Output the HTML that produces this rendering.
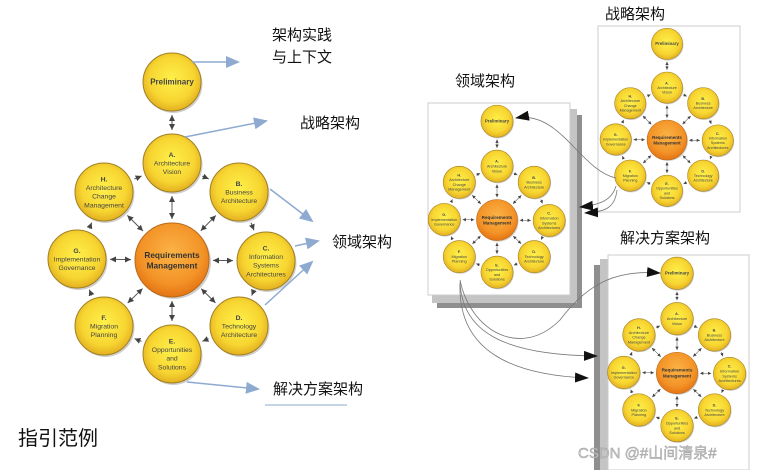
<!DOCTYPE html>
<html><head><meta charset="utf-8"><style>
body{margin:0;background:#fff;width:769px;height:470px;overflow:hidden;font-family:"Liberation Sans","Noto Sans CJK SC",sans-serif}
svg{position:absolute;left:0;top:0}
.cn{font-family:"Liberation Sans","Noto Sans CJK SC",sans-serif;fill:#111}
</style></head><body>
<svg id="s" width="769" height="470" xmlns="http://www.w3.org/2000/svg">
<defs id="defs">
<radialGradient id="y" cx="50%" cy="45%" r="55%"><stop offset="0" stop-color="#fff04a"/><stop offset="0.7" stop-color="#f7d531"/><stop offset="1" stop-color="#e3b021"/></radialGradient>
<radialGradient id="o" cx="50%" cy="40%" r="60%"><stop offset="0" stop-color="#fbb346"/><stop offset="0.7" stop-color="#f39327"/><stop offset="1" stop-color="#e47314"/></radialGradient>
<marker id="bl" markerWidth="14" markerHeight="12" refX="12" refY="6" orient="auto" markerUnits="userSpaceOnUse"><path d="M0,0L14,6L0,12z" fill="#8eaad0"/></marker>
<marker id="bk" markerWidth="14" markerHeight="10" refX="13" refY="5" orient="auto" markerUnits="userSpaceOnUse"><path d="M0,0L14,5L0,10z" fill="#111"/></marker>
</defs>
<rect x="437" y="115" width="145" height="193" fill="#8f8f8f"/>
<rect x="432" y="109" width="145" height="194" fill="#c4c4c4"/>
<rect x="428" y="103" width="142" height="192" fill="#fff" stroke="#ccc"/>
<rect x="598" y="26" width="142" height="186" fill="#fff" stroke="#ccc"/>
<rect x="594" y="265" width="10" height="205" fill="#8f8f8f"/>
<rect x="600" y="259" width="10" height="211" fill="#c4c4c4"/>
<rect x="608" y="255" width="141" height="215" fill="#fff" stroke="#ccc"/>
<g id="d"></g>
<g stroke="#8eaad0" stroke-width="1.5" fill="none" marker-end="url(#bl)">
<line x1="192" y1="62" x2="238" y2="62"/>
<line x1="185" y1="137" x2="266" y2="121"/>
<line x1="270" y1="189" x2="312" y2="221"/>
<line x1="295" y1="246" x2="318" y2="241"/>
<line x1="265" y1="305" x2="312" y2="262"/>
<line x1="187" y1="382" x2="258" y2="389"/>
</g>
<line x1="265" y1="405" x2="347" y2="405" stroke="#8eaad0" stroke-width="1"/>
<g stroke="#777" stroke-width="0.8" fill="none" marker-end="url(#bk)">
<path d="M616,178 C580,170 560,110 516,118"/>
<path d="M616,186 C612,200 600,205 580,207"/>
<path d="M617,190 C615,208 605,212 585,213"/>
<path d="M460,280 C470,330 520,360 560,320 C590,280 620,270 660,273"/>
<path d="M460,282 C462,330 500,355 597,356"/>
<path d="M460,284 C458,350 510,375 588,378"/>
</g>
<g class="cn">
<text x="272" y="40" font-size="15">架构实践</text>
<text x="272" y="62" font-size="15">与上下文</text>
<text x="300" y="128" font-size="15">战略架构</text>
<text x="332" y="247" font-size="15">领域架构</text>
<text x="273" y="394" font-size="15">解决方案架构</text>
<text x="18" y="445" font-size="20">指引范例</text>
<text x="605" y="19" font-size="15">战略架构</text>
<text x="455" y="86" font-size="15">领域架构</text>
<text x="620" y="243" font-size="15">解决方案架构</text>
</g>
<text x="578" y="458" font-size="15" fill="#c8c8c8" stroke="#999" stroke-width="0.4" font-family="Liberation Sans,Noto Sans CJK SC,sans-serif">CSDN @#山间清泉#</text>
</svg>
<script>
const NS="http://www.w3.org/2000/svg";
const g=document.getElementById('d'),defs=document.getElementById('defs');
function el(t,a,p){const e=document.createElementNS(NS,t);for(const k in a)e.setAttribute(k,a[k]);(p||g).appendChild(e);return e;}
const nodes=[
 {x:0,y:-178,l:['Preliminary'],b:1},
 {x:0,y:-97,l:['A.','Architecture','Vision']},
 {x:67,y:-68,l:['B.','Business','Architecture']},
 {x:94,y:1,l:['C.','Information','Systems','Architectures']},
 {x:67,y:66,l:['D.','Technology','Architecture']},
 {x:0,y:94,l:['E.','Opportunities','and','Solutions']},
 {x:-68,y:66,l:['F.','Migration','Planning']},
 {x:-95,y:-1,l:['G.','Implementation','Governance']},
 {x:-68,y:-68,l:['H.','Architecture','Change','Management']}];
let mi=0;
function diag(cx,cy,s){
 const id='m'+(mi++),w=6*s;
 const m=el('marker',{id:id,markerWidth:w,markerHeight:w,refX:w,refY:w/2,orient:'auto-start-reverse',markerUnits:'userSpaceOnUse'},defs);
 el('path',{d:`M0,0L${w},${w/2}L0,${w}z`,fill:'#444'},m);
 const R=29*s,RC=37*s;
 const L=(x1,y1,x2,y2,r1,r2,both)=>{const dx=x2-x1,dy=y2-y1,d=Math.hypot(dx,dy),gp=4*s;
  const a={x1:x1+dx/d*(r1+gp),y1:y1+dy/d*(r1+gp),x2:x2-dx/d*(r2+gp),y2:y2-dy/d*(r2+gp),stroke:'#555','stroke-width':Math.max(0.5,1*s),'marker-end':`url(#${id})`};
  if(both)a['marker-start']=`url(#${id})`;el('line',a);};
 const P=n=>[cx+n.x*s,cy+n.y*s];
 L(...P(nodes[0]),...P(nodes[1]),R,R,1);
 for(let i=1;i<9;i++){const [x,y]=P(nodes[i]);L(cx,cy,x,y,RC,R,1);}
 for(let i=1;i<9;i++){const n=nodes[i],m2=nodes[i==8?1:i+1];L(...P(n),...P(m2),R,R,0);}
 for(const n of nodes){const [x,y]=P(n);
  el('circle',{cx:x+1.5*s,cy:y+2*s,r:R,fill:'#888',opacity:.4});
  el('circle',{cx:x,cy:y,r:R,fill:'url(#y)',stroke:'#a08022','stroke-width':Math.max(.5,1*s)});
  const fs=6.8*s,lh=8.6*s,n0=n.l.length;
  n.l.forEach((t,j)=>{const e=el('text',{x:x,y:y+(j-(n0-1)/2)*lh+fs*0.35,'font-size':n.b?8*s:fs,'text-anchor':'middle',fill:'#444','font-weight':(n.b||j==0)?'bold':'normal','font-family':'Liberation Sans,sans-serif'});e.textContent=t;});
 }
 el('circle',{cx:cx+2*s,cy:cy+2*s,r:RC,fill:'#888',opacity:.4});
 el('circle',{cx:cx,cy:cy,r:RC,fill:'url(#o)',stroke:'#b86a18','stroke-width':Math.max(.5,1*s)});
 ['Requirements','Management'].forEach((t,j)=>{const e=el('text',{x:cx,y:cy+(j-0.5)*10.5*s+3*s,'font-size':8.3*s,'text-anchor':'middle','font-weight':'bold',fill:'#333','font-family':'Liberation Sans,sans-serif'});e.textContent=t;});
}
diag(172,260,1);
diag(667,140,0.54);
diag(497,220,0.555);
diag(677,373,0.56);
</script>
</body></html>
